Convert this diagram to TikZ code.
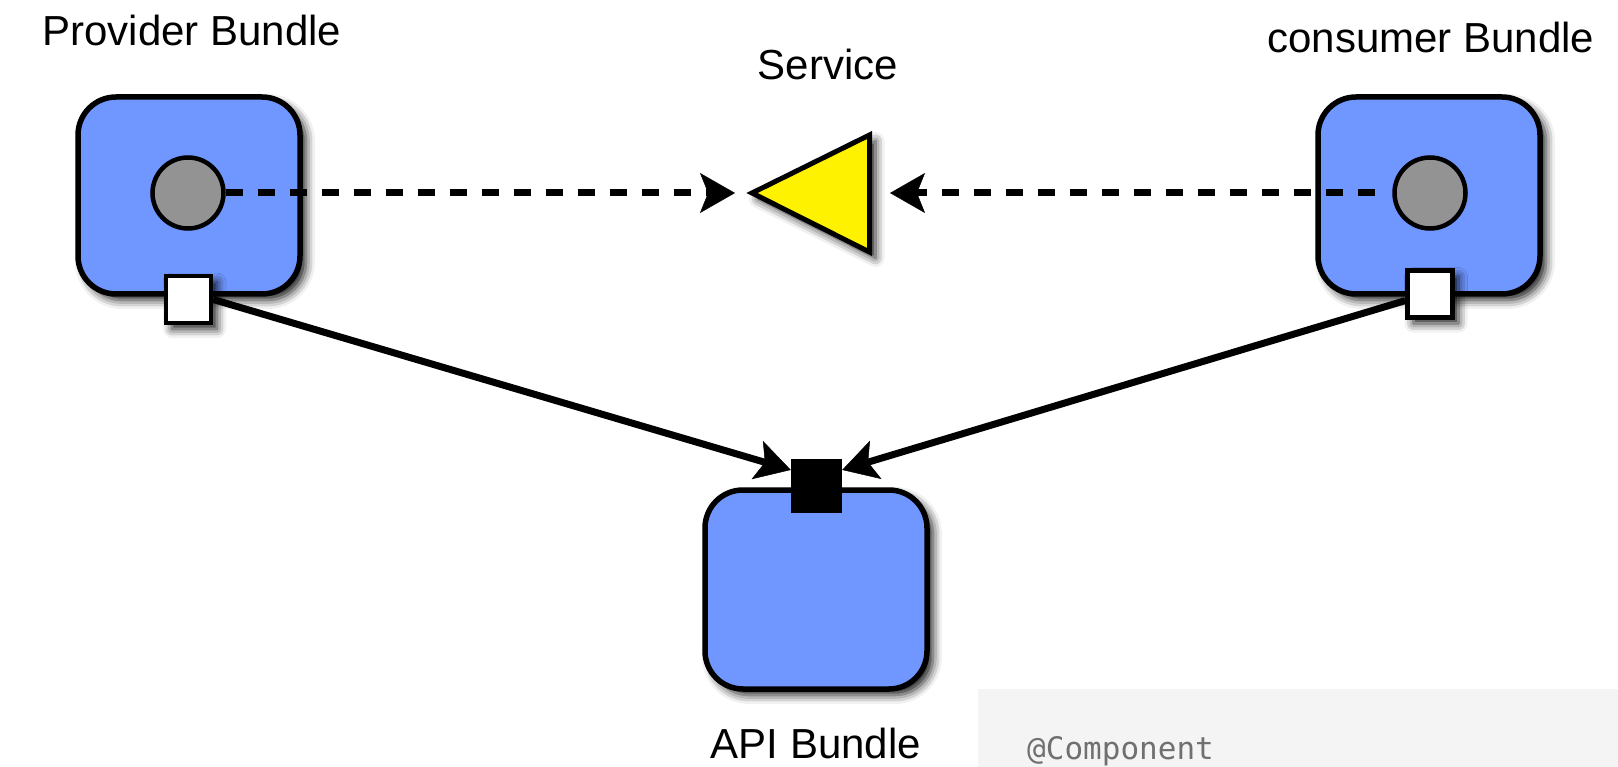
\documentclass[tikz,border=0pt]{standalone}
\usepackage{fontspec}
\setmainfont{Liberation Sans}
\newfontfamily\codefont{DejaVu Sans Mono}
\usetikzlibrary{arrows.meta,shadows.blur}
\definecolor{bundleblue}{HTML}{7096FF}
\definecolor{dotgray}{HTML}{939393}
\definecolor{svcyellow}{HTML}{FFF200}
\definecolor{codebg}{HTML}{F4F4F4}
\definecolor{codefg}{HTML}{707070}
\begin{document}
\begin{tikzpicture}[x=1pt,y=-1pt,
  softshadow/.style={blur shadow={shadow xshift=6pt,shadow yshift=-6pt,shadow blur radius=9pt,shadow opacity=90}},
  bundle/.style={draw,line width=5.5pt,fill=bundleblue,rounded corners=38pt,
    minimum width=222pt,minimum height=197pt,inner sep=0pt,softshadow},
  dot/.style={circle,draw,line width=4.5pt,fill=dotgray,minimum size=71pt,inner sep=0pt},
  port/.style={draw,line width=4.5pt,fill=white,minimum width=45pt,minimum height=47pt,inner sep=0pt},
  apiport/.style={draw=none,fill=black,minimum width=51pt,minimum height=54pt,inner sep=0pt},
  lbl/.style={font=\fontsize{42}{50}\selectfont,anchor=base,inner sep=0pt},
  tipstyle/.style={-{Stealth[length=35pt,width=40pt,inset=8pt,line width=0.5pt,fill=black]}},
  conn/.style={line width=7pt,tipstyle},
  dconn/.style={line width=7pt,dash pattern=on 17pt off 15pt,tipstyle}]
\useasboundingbox (0,0) rectangle (1618,767);

% code snippet box (bottom right)
\fill[codebg] (978,689) rectangle (1618,767);
\node[anchor=base west,inner sep=0pt,text=codefg,font=\codefont\fontsize{31}{36}\selectfont] (code) at (1027,759) {@Component};

% bundles
\node[bundle] (prov) at (189,195.5) {};
\node[bundle] (cons) at (1429,195.5) {};
\node[bundle,minimum height=199pt] (api) at (816,589.5) {};

% service triangle
\coordinate (svctip) at (752,193);
\coordinate (svctop) at (869.5,135);
\coordinate (svcbot) at (869.5,252);
\coordinate (svcback) at (869.5,193);
\filldraw[fill=svcyellow,line width=5pt,line join=miter,softshadow]
  (svctip) -- (svctop) -- (svcbot) -- cycle;

% circles
\node[dot] (pc) at (188,193) {};
\node[dot] (cc) at (1430,193) {};

% dashed service arrows
\draw[dconn,shorten >=17pt] (pc.east) -- (svctip);
\draw[dconn,shorten <=17pt,shorten >=20.5pt] (cc.west) -- (svcback);

% ports
\node[port,softshadow] (psq) at (188.5,299.5) {};
\node[port,softshadow] (csq) at (1430,294) {};
\node[apiport] (apq) at (816.5,486) {};

% import arrows
\draw[conn] (psq.east) -- (apq.148);
\draw[conn] (csq.195) -- (apq.32);

% labels
\node[lbl] (lprov) at (192,46) {Provider Bundle};
\node[lbl] (lcons) at (1431,53) {consumer Bundle};
\node[lbl] (lsvc) at (828,80) {Service};
\node[lbl] (lapi) at (816,758) {API Bundle};
\end{tikzpicture}
\end{document}
